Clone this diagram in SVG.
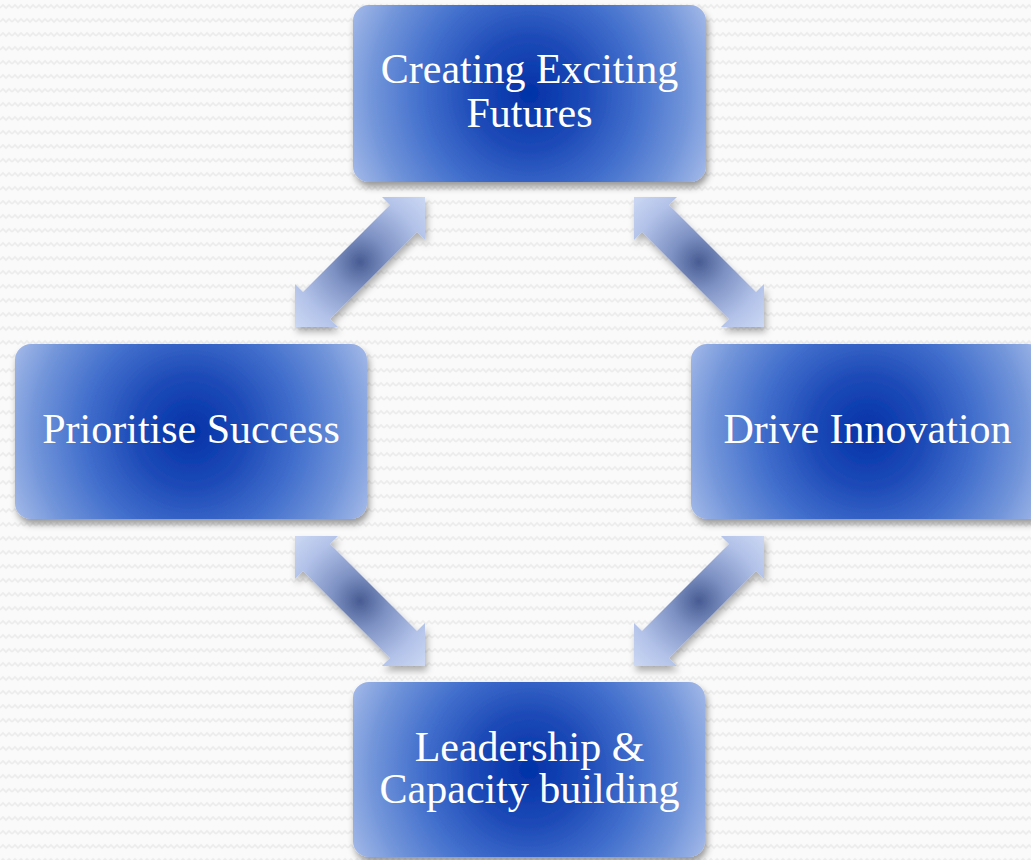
<svg xmlns="http://www.w3.org/2000/svg" width="1031" height="860" viewBox="0 0 1031 860">
  <defs>
    <pattern id="bgpat" width="12" height="14" patternUnits="userSpaceOnUse">
      <rect width="12" height="14" fill="#fafafa"/>
      <polyline points="0,8 3,5 6,8 9,5 12,8" fill="none" stroke="#ececec" stroke-width="1.6"/>
    </pattern>
    <radialGradient id="boxGrad" cx="0.5" cy="0.25" r="0.56" gradientTransform="scale(1 2)">
      <stop offset="0" stop-color="#0232a8"/>
      <stop offset="0.28" stop-color="#1c4ab7"/>
      <stop offset="0.55" stop-color="#4370cd"/>
      <stop offset="0.8" stop-color="#7396da"/>
      <stop offset="1" stop-color="#a6bbe9"/>
    </radialGradient>
    <radialGradient id="arrowGrad" cx="0.5" cy="0.5" r="0.7">
      <stop offset="0" stop-color="#485c93"/>
      <stop offset="0.3" stop-color="#7d91c3"/>
      <stop offset="0.7" stop-color="#b1c1e8"/>
      <stop offset="1" stop-color="#cbd7f3"/>
    </radialGradient>
    <filter id="boxShadow" x="-10%" y="-10%" width="125%" height="130%">
      <feDropShadow dx="2" dy="5" stdDeviation="3.5" flood-color="#000" flood-opacity="0.4"/>
    </filter>
    <filter id="arrowShadow" x="-15%" y="-15%" width="135%" height="135%">
      <feDropShadow dx="2" dy="5" stdDeviation="3.5" flood-color="#000" flood-opacity="0.3"/>
    </filter>
  </defs>
  <style>
    .box { fill: url(#boxGrad); filter: url(#boxShadow); }
    .arrow { fill: url(#arrowGrad); filter: url(#arrowShadow); }
    .label { font-family: "Liberation Serif", "DejaVu Serif", serif; font-size: 42px; fill: #ffffff; text-anchor: middle; }
  </style>

  <rect width="1031" height="860" fill="url(#bgpat)"/>

  <g id="connectors">
    <polygon class="arrow" points="425,197 425,240 417,232 330,319 338,327 295,327 295,284 303,292 390,205 382,197"/>
    <polygon class="arrow" points="634,197 634,240 642,232 729,319 721,327 764,327 764,284 756,292 669,205 677,197"/>
    <polygon class="arrow" points="425,666 425,623 417,631 330,544 338,536 295,536 295,579 303,571 390,658 382,666"/>
    <polygon class="arrow" points="634,666 634,623 642,631 729,544 721,536 764,536 764,579 756,571 669,658 677,666"/>
  </g>

  <g id="node-top">
    <rect class="box" x="353" y="5" width="353" height="177" rx="16" ry="16"/>
    <text class="label" x="529.5" y="83">Creating Exciting</text>
    <text class="label" x="529.5" y="127">Futures</text>
  </g>

  <g id="node-left">
    <rect class="box" x="15" y="344" width="352" height="175" rx="16" ry="16"/>
    <text class="label" x="191" y="443">Prioritise Success</text>
  </g>

  <g id="node-right">
    <rect class="box" x="691" y="344" width="353" height="175" rx="16" ry="16"/>
    <text class="label" x="867.5" y="443">Drive Innovation</text>
  </g>

  <g id="node-bottom">
    <rect class="box" x="353" y="682" width="352" height="175" rx="16" ry="16"/>
    <text class="label" x="529.5" y="761">Leadership &amp;</text>
    <text class="label" x="529.5" y="803">Capacity building</text>
  </g>
</svg>
